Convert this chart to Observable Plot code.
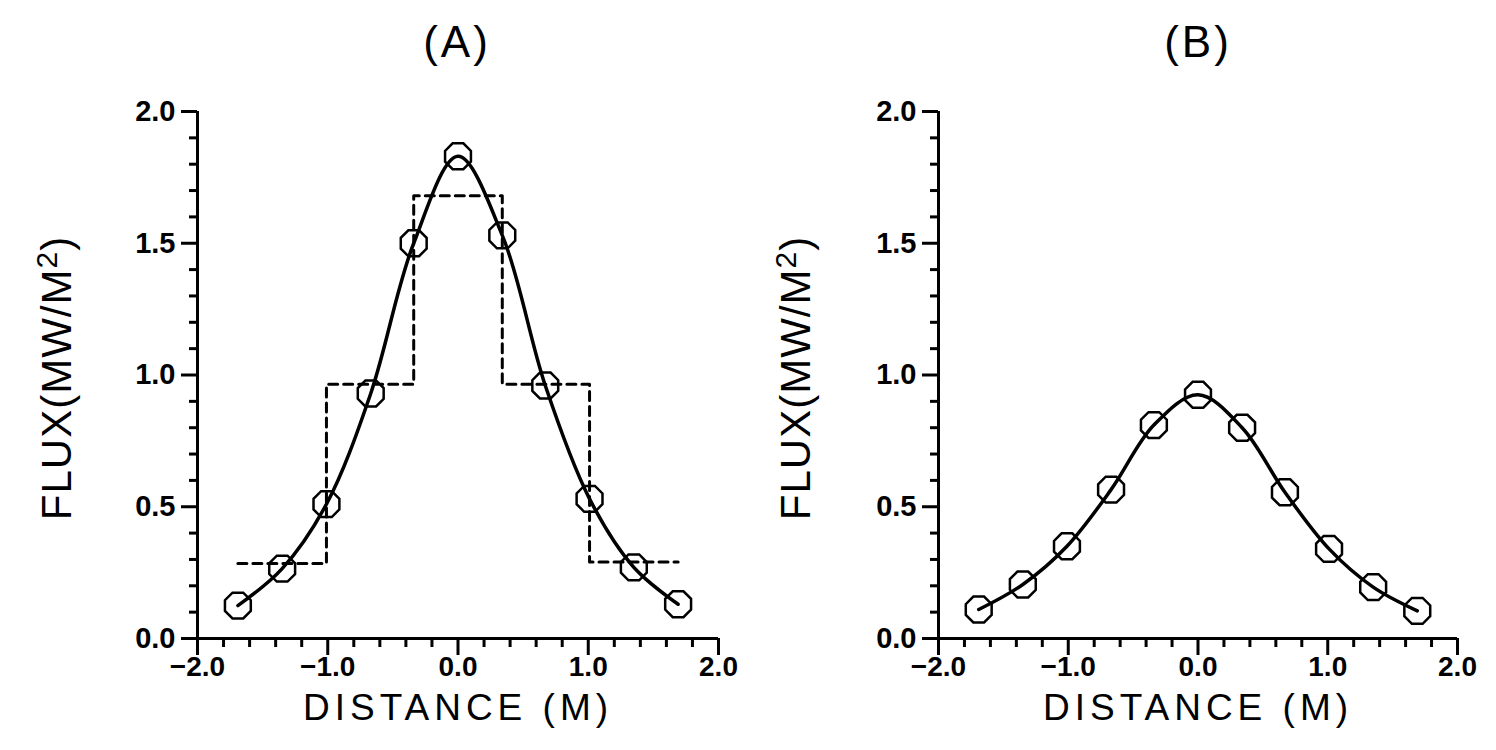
<!DOCTYPE html>
<html>
<head>
<meta charset="utf-8">
<script src="https://cdn.jsdelivr.net/npm/d3@7"></script>
<script src="https://cdn.jsdelivr.net/npm/@observablehq/plot@0.6"></script>
<style>
  body { margin: 0; background: #fff; }
  #wrap { position: relative; width: 1496px; height: 750px; overflow: hidden; background: #fff; font-family: "Liberation Sans", Arial, sans-serif; color: #000; }
  .panel { position: absolute; top: 0; }
  .title { position: absolute; top: 42px; transform: translate(-50%, -50%); font-size: 44px; letter-spacing: 3px; white-space: nowrap; }
  .ylab { position: absolute; transform: translate(-50%, -50%) rotate(-90deg); font-size: 42px; white-space: nowrap; letter-spacing: 1px; }
  .ylab sup { font-size: 30px; vertical-align: 14px; line-height: 0; }
  svg g[aria-label="text"] text { letter-spacing: 5px; }
  svg g[aria-label$="tick label"] text { font-weight: bold; }
  svg g[aria-label$="-axis tick"] * { stroke-width: 3px; }
</style>
</head>
<body>
<div id="wrap">
  <div class="title" style="left:457px">(A)</div>
  <div class="title" style="left:1198px">(B)</div>
  <div class="ylab" style="left:57px; top:378px">FLUX(MW/M<sup>2</sup>)</div>
  <div class="ylab" style="left:796px; top:378px">FLUX(MW/M<sup>2</sup>)</div>
</div>
<script>
// ---- data ----
const distA = [-1.69, -1.35, -1.01, -0.67, -0.34, 0, 0.34, 0.67, 1.01, 1.35, 1.69];
const fluxA = [0.125, 0.265, 0.51, 0.93, 1.50, 1.83, 1.53, 0.96, 0.53, 0.27, 0.13];
const stepEdgesA = [-1.69, -1.01, -0.34, 0.34, 1.01, 1.69];
const stepFluxA  = [0.285, 0.965, 1.68, 0.965, 0.29, 0.29];
const distB = [-1.69, -1.35, -1.01, -0.67, -0.34, 0, 0.34, 0.67, 1.01, 1.35, 1.69];
const fluxB = [0.11, 0.205, 0.35, 0.565, 0.81, 0.925, 0.80, 0.555, 0.34, 0.195, 0.105];
const xMajorTicks = [-2, -1, 0, 1, 2];
const yMajorTicks = [0, 0.5, 1, 1.5, 2];
const xMinorTicks = [-1.8, -1.6, -1.4, -1.2, -0.8, -0.6, -0.4, -0.2, 0.2, 0.4, 0.6, 0.8, 1.2, 1.4, 1.6, 1.8];
const yMinorTicks = [0.1, 0.2, 0.3, 0.4, 0.6, 0.7, 0.8, 0.9, 1.1, 1.2, 1.3, 1.4, 1.6, 1.7, 1.8, 1.9];
const xLabel = "DISTANCE (M)";

const octagon = {
  draw(context, size) {
    const r = Math.sqrt(size / Math.PI);
    for (let k = 0; k < 8; ++k) {
      const a = Math.PI / 8 + k * Math.PI / 4;
      const px = r * Math.cos(a), py = r * Math.sin(a);
      if (k === 0) context.moveTo(px, py); else context.lineTo(px, py);
    }
    context.closePath();
  }
};

function panel(dist, flux, steps, marginLeft, marginRight) {
  const pts = dist.map((d, i) => ({x: d, y: flux[i]}));
  const marks = [
    Plot.axisX(xMinorTicks, {tickSize: 9, strokeWidth: 3, tickFormat: () => "", label: null}),
    Plot.axisY(yMinorTicks, {tickSize: 8, strokeWidth: 3, tickFormat: () => "", label: null}),
    Plot.axisX(xMajorTicks, {tickSize: 17, strokeWidth: 3, tickPadding: 1, fontSize: 28, tickFormat: d3.format(".1f"), label: null}),
    Plot.axisY(yMajorTicks, {tickSize: 16, strokeWidth: 3, tickPadding: 6, fontSize: 29, tickFormat: d3.format(".1f"), label: null}),
    Plot.ruleY([0], {strokeWidth: 3}),
    Plot.ruleX([-2], {strokeWidth: 3})
  ];
  if (steps) {
    const stepPts = steps.edges.map((d, i) => ({x: d, y: steps.flux[i]}));
    marks.push(Plot.line(stepPts, {x: "x", y: "y", curve: "step-after", stroke: "#000", strokeWidth: 3, strokeDasharray: "9,6"}));
  }
  marks.push(
    Plot.line(pts, {x: "x", y: "y", curve: "catmull-rom", stroke: "#000", strokeWidth: 3.5}),
    Plot.dot(pts, {x: "x", y: "y", r: 14, symbol: octagon, stroke: "#000", strokeWidth: 2.5, fill: "none"}),
    Plot.text([xLabel], {frameAnchor: "bottom", dy: 81, fontSize: 37, fill: "#000"})
  );
  return Plot.plot({
    width: 748, height: 750,
    marginTop: 111, marginBottom: 112, marginLeft, marginRight,
    x: {domain: [-2, 2], label: null},
    y: {domain: [0, 2], label: null},
    style: {fontFamily: "'Liberation Sans', Arial, sans-serif", background: "transparent", color: "#000", overflow: "visible"},
    marks
  });
}

const wrap = document.getElementById("wrap");
const a = panel(distA, fluxA, {edges: stepEdgesA, flux: stepFluxA}, 197, 30);
a.classList.add("panel"); a.style.left = "0px";
const b = panel(distB, fluxB, null, 190, 39);
b.classList.add("panel"); b.style.left = "748px";
wrap.prepend(b);
wrap.prepend(a);
</script>
</body>
</html>
